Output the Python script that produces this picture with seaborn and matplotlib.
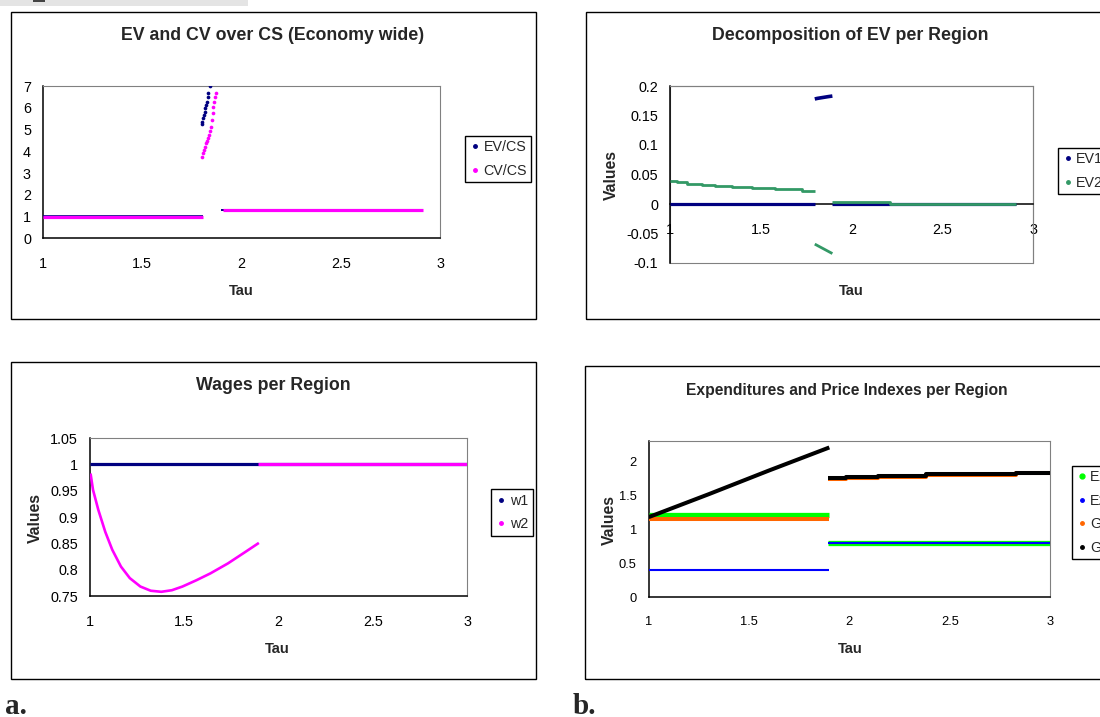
import matplotlib
matplotlib.use("Agg")
import matplotlib.pyplot as plt
from matplotlib import font_manager
from matplotlib.lines import Line2D
from matplotlib.patches import Rectangle
from matplotlib.ticker import FuncFormatter
import seaborn as sns

# ---------------------------------------------------------------------------
# Data (tau on the x axis for every panel)
# ---------------------------------------------------------------------------
tau_ticks = [1, 1.5, 2, 2.5, 3]

# Panel: EV and CV over CS (Economy wide)
ev_cs_tau_low = [1.0, 1.805]
ev_cs_low = [1.04, 1.04]
ev_cs_tau_jump = [1.800, 1.8034, 1.8084, 1.8117, 1.8151, 1.8185, 1.8218,
                  1.8252, 1.8302, 1.8336, 1.842]
ev_cs_jump = [5.25, 5.36, 5.51, 5.67, 5.82, 5.97, 6.13, 6.28, 6.51, 6.69, 7.0]
ev_cs_tau_high = [1.897, 2.915]
ev_cs_high = [1.28, 1.28]

cv_cs_tau_low = [1.0, 1.805]
cv_cs_low = [1.0, 1.0]
cv_cs_tau_jump = [1.800, 1.805, 1.8117, 1.8168, 1.8218, 1.8268, 1.8319, 1.8369,
                  1.842, 1.8453, 1.8503, 1.8554, 1.8587, 1.8638, 1.8688, 1.8722]
cv_cs_jump = [3.75, 3.90, 4.06, 4.21, 4.36, 4.49, 4.59, 4.75,
              4.95, 5.13, 5.44, 5.74, 6.05, 6.28, 6.51, 6.66]
cv_cs_tau_high = [1.905, 2.915]
cv_cs_high = [1.31, 1.31]

# Panel: Decomposition of EV per Region
ev1_tau_low = [1.0, 1.798]
ev1_low = [0.0, 0.0]
ev1_tau_mid = [1.796, 1.81, 1.83, 1.85, 1.87, 1.893]
ev1_mid = [0.178, 0.179, 0.180, 0.181, 0.182, 0.183]
ev1_tau_high = [1.893, 2.907]
ev1_high = [0.0005, 0.0005]

ev2_tau_low = [1.0, 1.037, 1.092, 1.174, 1.248, 1.339, 1.450, 1.578, 1.725, 1.798]
ev2_low = [0.0395, 0.0373, 0.0345, 0.0322, 0.0305, 0.0282, 0.0266, 0.0249, 0.022, 0.022]
ev2_tau_mid = [1.796, 1.893]
ev2_mid = [-0.068, -0.084]
ev2_tau_high = [1.893, 2.21, 2.907]
ev2_high = [0.003, 0.0006, 0.0006]

# Panel: Wages per Region
w1_tau = [1.0, 3.0]
w1 = [1.002, 1.002]
w2_tau_low = [1.004, 1.017, 1.045, 1.082, 1.119, 1.165, 1.212, 1.268, 1.323,
              1.379, 1.435, 1.491, 1.565, 1.639, 1.732, 1.825, 1.896]
w2_low = [0.983, 0.952, 0.914, 0.872, 0.838, 0.806, 0.784, 0.768, 0.760,
          0.758, 0.761, 0.768, 0.780, 0.793, 0.812, 0.834, 0.851]
w2_tau_high = [1.893, 3.0]
w2_high = [1.002, 1.002]

# Panel: Expenditures and Price Indexes per Region
e_tau_low = [1.0, 1.90]
e_tau_high = [1.895, 3.0]
e1_low = [1.21, 1.21]
e1_high = [0.80, 0.80]
e2_low = [0.40, 0.40]
e2_high = [0.80, 0.80]
g1_low = [1.16, 1.16]
g2_tau_low = [1.0, 1.3, 1.6, 1.9]
g2_low = [1.18, 1.52, 1.87, 2.21]
g_tau_high = [1.895, 1.985, 2.14, 2.38, 2.83, 3.0]
g1_high = [1.74, 1.76, 1.78, 1.81, 1.83, 1.83]
g2_high = [1.76, 1.77, 1.79, 1.82, 1.84, 1.84]

NAVY, MAGENTA, SEAGREEN = "#000080", "#FF00FF", "#339966"
LIME, BLUE, ORANGE, BLACK = "#00FF00", "#0000FF", "#FF6600", "#000000"

# ---------------------------------------------------------------------------
W, H = 1100, 717
sns.set_style("white")
plt.rcParams["font.family"] = ["Liberation Sans", "DejaVu Sans"]

_names = {f.name for f in font_manager.fontManager.ttflist}
if "Liberation Sans Narrow" in _names:
    NARROW, NSCALE, NTICK = "Liberation Sans Narrow", 1.0, 10.0
else:
    NARROW, NSCALE, NTICK = "Liberation Sans", 0.82, 9.3

fig = plt.figure(figsize=(W / 100, H / 100), dpi=100)
fig.patch.set_facecolor("white")


def px_axes(l, t, r, b):
    return fig.add_axes([l / W, 1 - b / H, (r - l) / W, (b - t) / H])


def frame(l, t, r, b):
    fig.add_artist(Rectangle((l / W, 1 - b / H), (r - l) / W, (b - t) / H,
                             transform=fig.transFigure, fill=False,
                             ec="black", lw=1.0, clip_on=False))


def ftext(x, y, s, **kw):
    fig.text(x / W, 1 - y / H, s, ha="center", va="center", **kw)


def seg(ax, tau, vals, color, lw, **kw):
    sns.lineplot(x=tau, y=vals, ax=ax, color=color, linewidth=lw,
                 estimator=None, sort=False, legend=False,
                 solid_capstyle="butt", zorder=3, **kw)


def dots(ax, tau, vals, color):
    sns.scatterplot(x=tau, y=vals, ax=ax, color=color, s=7, linewidth=0,
                    marker="o", legend=False, zorder=3)


fmt = FuncFormatter(lambda v, p: f"{v:g}")


def style(ax, ylim, yticks, family="Liberation Sans", size=10.4, zero_axis=False):
    ax.set_xlim(1, 3)
    ax.set_ylim(*ylim)
    ax.set_xticks(tau_ticks)
    ax.set_yticks(yticks)
    ax.xaxis.set_major_formatter(fmt)
    ax.yaxis.set_major_formatter(fmt)
    ax.set_xlabel("")
    ax.set_ylabel("")
    ax.set_facecolor("white")
    for s in ("top", "right"):
        ax.spines[s].set_color("#808080")
        ax.spines[s].set_linewidth(0.8)
    for s in ("left", "bottom"):
        ax.spines[s].set_color("black")
        ax.spines[s].set_linewidth(1.1)
    if zero_axis:
        ax.spines["bottom"].set_position(("data", 0.0))
        ax.add_patch(Rectangle((0, 0), 1, 1, transform=ax.transAxes, fill=False,
                               ec="#808080", lw=0.8, zorder=0.5, clip_on=False))
    ax.tick_params(axis="both", direction="out", length=4, width=1,
                   colors="black", labelsize=size)
    ax.tick_params(axis="x", pad=9.5)
    ax.tick_params(axis="y", pad=4.5)
    for lab in ax.get_xticklabels() + ax.get_yticklabels():
        lab.set_family(family)


def legend(ax, labels, colors, sizes, left, top, family="Liberation Sans", size=10.3):
    handles = [Line2D([], [], ls="", marker="o", ms=s, color=c, mec=c)
               for c, s in zip(colors, sizes)]
    leg = ax.legend(handles, labels, loc="upper left",
                    bbox_to_anchor=(left / W, 1 - top / H),
                    bbox_transform=fig.transFigure, frameon=True, fancybox=False,
                    edgecolor="black", framealpha=1, handlelength=0.8,
                    handletextpad=0.2, borderpad=0.3, labelspacing=0.68,
                    borderaxespad=0, prop={"family": family, "size": size})
    leg.get_frame().set_linewidth(1.0)


# page scrap strip along the top edge
fig.add_artist(Rectangle((0, 1 - 6 / H), 248 / W, 6 / H, transform=fig.transFigure,
                         color="#e4e4e4", lw=0))
fig.add_artist(Rectangle((33 / W, 1 - 2 / H), 12 / W, 2 / H, transform=fig.transFigure,
                         color="#444444", lw=0))

# chart frames
frame(10.5, 12, 535.6, 319)
frame(586, 12, 1120, 319)
frame(10.5, 362, 535.6, 679)
frame(585, 365.7, 1120, 679)

# ---- EV and CV over CS ----
ax1 = px_axes(42.8, 86, 440.2, 238.3)
seg(ax1, ev_cs_tau_low, ev_cs_low, NAVY, 1.2)
seg(ax1, ev_cs_tau_high, ev_cs_high, NAVY, 1.4)
dots(ax1, ev_cs_tau_jump, ev_cs_jump, NAVY)
seg(ax1, cv_cs_tau_low, cv_cs_low, MAGENTA, 2.3)
seg(ax1, cv_cs_tau_high, cv_cs_high, MAGENTA, 2.3)
dots(ax1, cv_cs_tau_jump, cv_cs_jump, MAGENTA)
style(ax1, (0, 7), list(range(8)))
legend(ax1, ["EV/CS", "CV/CS"], [NAVY, MAGENTA], [2.5, 2.5], 465, 136)
ftext(273, 36, "EV and CV over CS (Economy wide)", fontsize=12.8, fontweight="bold")
ftext(241.5, 290.7, "Tau", fontsize=10.5, fontweight="bold")

# ---- Decomposition of EV per Region ----
ax2 = px_axes(670.3, 86, 1033.3, 263)
seg(ax2, ev1_tau_low, ev1_low, NAVY, 2.3)
seg(ax2, ev1_tau_mid, ev1_mid, NAVY, 2.6)
seg(ax2, ev1_tau_high, ev1_high, NAVY, 2.3)
seg(ax2, ev2_tau_low, ev2_low, SEAGREEN, 2.0, drawstyle="steps-post")
seg(ax2, ev2_tau_mid, ev2_mid, SEAGREEN, 2.0)
seg(ax2, ev2_tau_high, ev2_high, SEAGREEN, 2.0, drawstyle="steps-post")
style(ax2, (-0.1, 0.2), [-0.1, -0.05, 0, 0.05, 0.1, 0.15, 0.2], zero_axis=True)
legend(ax2, ["EV1", "EV2"], [NAVY, SEAGREEN], [2.5, 2.5], 1057.5, 148)
ftext(850, 36, "Decomposition of EV per Region", fontsize=12.8, fontweight="bold")
ftext(611.4, 175, "Values", fontsize=11.3, fontweight="bold", rotation=90)
ftext(851, 290.7, "Tau", fontsize=10.5, fontweight="bold")

# ---- Wages per Region ----
ax3 = px_axes(89.8, 438.3, 467.2, 596)
seg(ax3, w1_tau, w1, NAVY, 2.3)
seg(ax3, w2_tau_low, w2_low, MAGENTA, 1.9)
seg(ax3, w2_tau_high, w2_high, MAGENTA, 2.3)
style(ax3, (0.75, 1.05), [0.75, 0.8, 0.85, 0.9, 0.95, 1.0, 1.05])
legend(ax3, ["w1", "w2"], [NAVY, MAGENTA], [2.5, 2.5], 491.4, 489.3)
ftext(273, 386, "Wages per Region", fontsize=12.8, fontweight="bold")
ftext(35.1, 518.3, "Values", fontsize=11.3, fontweight="bold", rotation=90)
ftext(277, 649.3, "Tau", fontsize=10.5, fontweight="bold")

# ---- Expenditures and Price Indexes per Region ----
ax4 = px_axes(648.6, 440.7, 1050.2, 597)
seg(ax4, e_tau_low, e1_low, LIME, 3.8)
seg(ax4, e_tau_high, e1_high, LIME, 3.8)
seg(ax4, e_tau_low, e2_low, BLUE, 1.5)
seg(ax4, e_tau_high, e2_high, BLUE, 1.5)
seg(ax4, e_tau_low, g1_low, ORANGE, 2.9)
seg(ax4, g_tau_high, g1_high, ORANGE, 2.9, drawstyle="steps-post")
seg(ax4, g2_tau_low, g2_low, BLACK, 2.9)
seg(ax4, g_tau_high, g2_high, BLACK, 2.9, drawstyle="steps-post")
style(ax4, (0, 2.31), [0, 0.5, 1, 1.5, 2], family=NARROW, size=NTICK)
legend(ax4, ["E1", "E2", "G1", "G2"], [LIME, BLUE, ORANGE, BLACK],
       [3.5, 2.5, 2.5, 2.5], 1071.6, 465.7, family=NARROW, size=10.3)
ftext(846.4, 390, "Expenditures and Price Indexes per Region", fontsize=13.7 * NSCALE,
      fontweight="bold", family=NARROW)
ftext(609.6, 520, "Values", fontsize=11.3, fontweight="bold", rotation=90, family=NARROW)
ftext(850, 649.3, "Tau", fontsize=10.5, fontweight="bold", family=NARROW)

# panel letters
fig.text(5 / W, 1 - 714 / H, "a.", fontsize=21, fontweight="bold",
         family="Liberation Serif", ha="left", va="baseline")
fig.text(573 / W, 1 - 714 / H, "b.", fontsize=21, fontweight="bold",
         family="Liberation Serif", ha="left", va="baseline")

fig.savefig("out.png", dpi=100, facecolor="white")
